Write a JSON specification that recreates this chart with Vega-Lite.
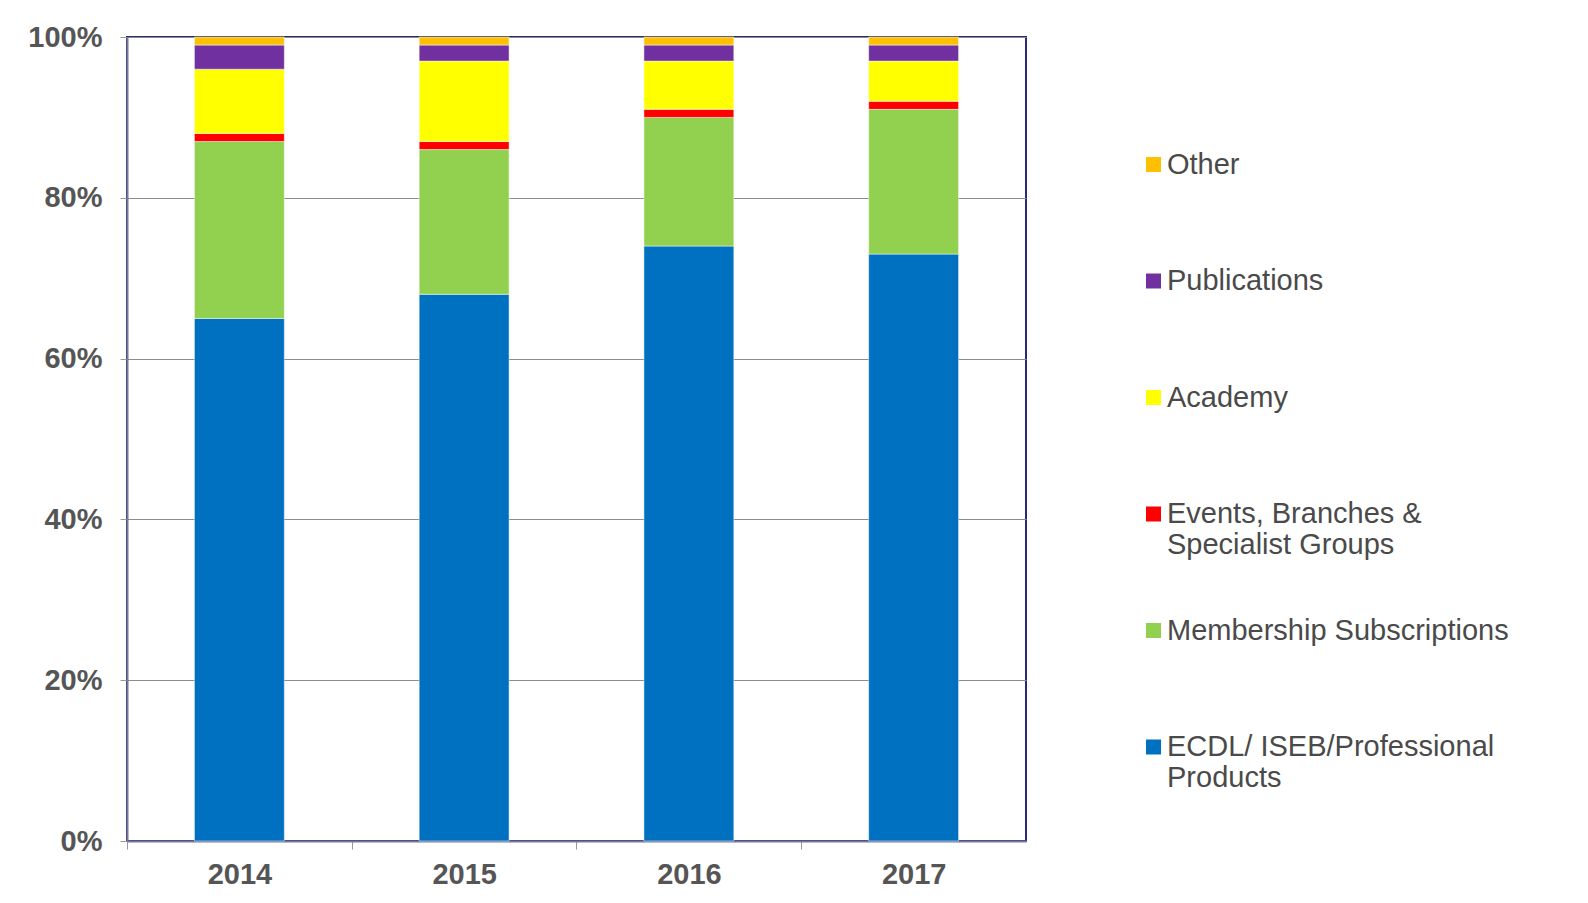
{
  "$schema": "https://vega.github.io/schema/vega-lite/v6.json",
  "width": 899,
  "height": 804,
  "autosize": {"type": "none"},
  "padding": {"left": 127, "top": 37, "right": 562, "bottom": 62},
  "background": "white",
  "config": {
    "font": "Liberation Sans",
    "view": {"stroke": "#2B2A78", "strokeWidth": 2}
  },
  "data": {
    "values": [
      {"year": "2014", "category": "ECDL/ ISEB/Professional Products", "ord": 1, "value": 65},
      {"year": "2014", "category": "Membership Subscriptions", "ord": 2, "value": 22},
      {"year": "2014", "category": "Events, Branches & Specialist Groups", "ord": 3, "value": 1},
      {"year": "2014", "category": "Academy", "ord": 4, "value": 8},
      {"year": "2014", "category": "Publications", "ord": 5, "value": 3},
      {"year": "2014", "category": "Other", "ord": 6, "value": 1},
      {"year": "2015", "category": "ECDL/ ISEB/Professional Products", "ord": 1, "value": 68},
      {"year": "2015", "category": "Membership Subscriptions", "ord": 2, "value": 18},
      {"year": "2015", "category": "Events, Branches & Specialist Groups", "ord": 3, "value": 1},
      {"year": "2015", "category": "Academy", "ord": 4, "value": 10},
      {"year": "2015", "category": "Publications", "ord": 5, "value": 2},
      {"year": "2015", "category": "Other", "ord": 6, "value": 1},
      {"year": "2016", "category": "ECDL/ ISEB/Professional Products", "ord": 1, "value": 74},
      {"year": "2016", "category": "Membership Subscriptions", "ord": 2, "value": 16},
      {"year": "2016", "category": "Events, Branches & Specialist Groups", "ord": 3, "value": 1},
      {"year": "2016", "category": "Academy", "ord": 4, "value": 6},
      {"year": "2016", "category": "Publications", "ord": 5, "value": 2},
      {"year": "2016", "category": "Other", "ord": 6, "value": 1},
      {"year": "2017", "category": "ECDL/ ISEB/Professional Products", "ord": 1, "value": 73},
      {"year": "2017", "category": "Membership Subscriptions", "ord": 2, "value": 18},
      {"year": "2017", "category": "Events, Branches & Specialist Groups", "ord": 3, "value": 1},
      {"year": "2017", "category": "Academy", "ord": 4, "value": 5},
      {"year": "2017", "category": "Publications", "ord": 5, "value": 2},
      {"year": "2017", "category": "Other", "ord": 6, "value": 1}
    ]
  },
  "mark": {"type": "bar", "stroke": "#ffffff", "strokeWidth": 0.8, "strokeOpacity": 0.6},
  "encoding": {
    "x": {
      "field": "year",
      "type": "nominal",
      "scale": {"paddingInner": 0.6, "paddingOuter": 0.3},
      "axis": {
        "title": null,
        "labelAngle": 0,
        "labelFont": "Liberation Sans",
        "labelFontSize": 29,
        "labelFontWeight": "bold",
        "labelColor": "#555555",
        "labelPadding": 11,
        "tickOffset": -112.4,
        "labelOffset": 112.4,
        "tickSize": 8,
        "tickColor": "#999999",
        "domainColor": "#77779a",
        "domainWidth": 2,
        "grid": false
      }
    },
    "y": {
      "field": "value",
      "type": "quantitative",
      "stack": "zero",
      "scale": {"domain": [0, 100]},
      "axis": {
        "title": null,
        "values": [0, 20, 40, 60, 80, 100],
        "labelExpr": "datum.value + '%'",
        "labelFont": "Liberation Sans",
        "labelFontSize": 29,
        "labelFontWeight": "bold",
        "labelColor": "#555555",
        "labelPadding": 18,
        "tickSize": 7,
        "tickColor": "#999999",
        "domainColor": "#77779a",
        "domainWidth": 2,
        "grid": true,
        "gridColor": "#8c8c8c",
        "gridWidth": 1
      }
    },
    "color": {
      "field": "category",
      "type": "nominal",
      "scale": {
        "domain": ["Other", "Publications", "Academy", "Events, Branches & Specialist Groups", "Membership Subscriptions", "ECDL/ ISEB/Professional Products"],
        "range": ["#FFC000", "#7030A0", "#FFFF00", "#FF0000", "#92D050", "#0070C0"]
      },
      "legend": {
        "title": null,
        "orient": "none",
        "legendX": 1012,
        "legendY": 113,
        "padding": 0,
        "gridAlign": "all",
        "symbolType": "square",
        "symbolSize": 225,
        "symbolStrokeWidth": 0,
        "labelFont": "Liberation Sans",
        "labelFontSize": 29,
        "labelColor": "#4a4a4a",
        "labelOffset": -1,
        "labelLimit": 500,
        "rowPadding": 55.5,
        "labelExpr": "datum.label == 'Events, Branches & Specialist Groups' ? ['Events, Branches &', 'Specialist Groups'] : datum.label == 'ECDL/ ISEB/Professional Products' ? ['ECDL/ ISEB/Professional', 'Products'] : datum.label"
      }
    },
    "order": {"field": "ord", "type": "quantitative", "sort": "ascending"}
  }
}
